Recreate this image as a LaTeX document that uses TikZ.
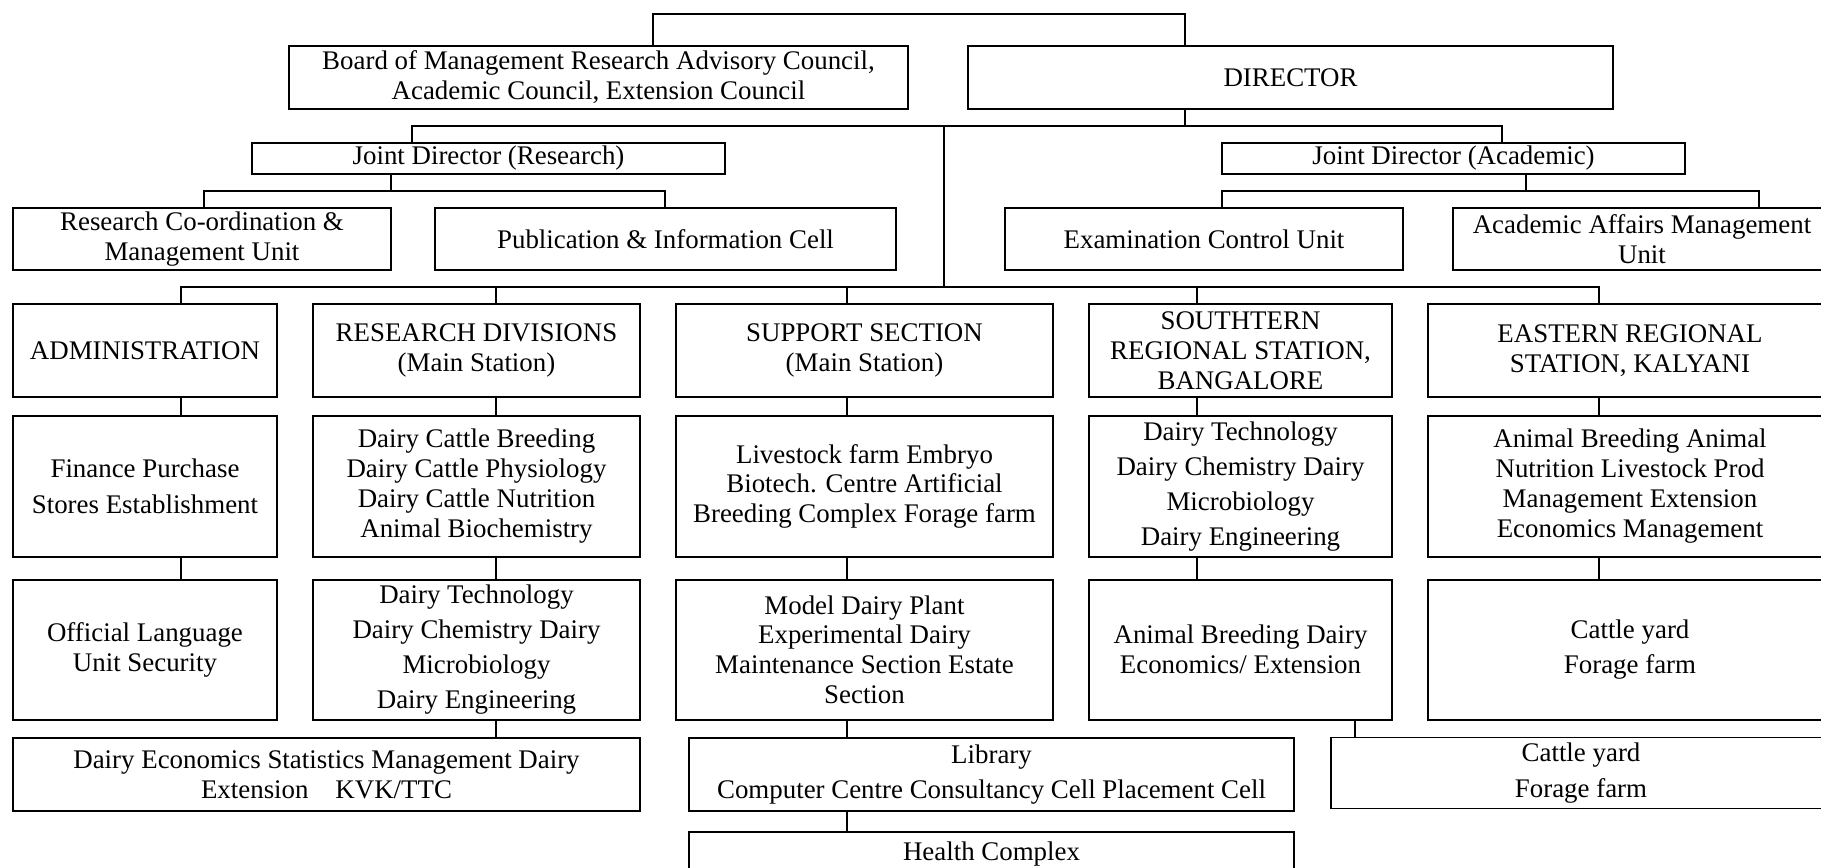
\documentclass[tikz,border=0pt]{standalone}
\usepackage{fontspec}
\setmainfont{Liberation Serif}
\usetikzlibrary{positioning}
\tikzset{
  orgbox/.style={
    rectangle, draw, line width=0.18mm, align=center, inner sep=0pt,
    font=\fontsize{7.65}{8.5}\selectfont
  },
  tallbox/.style={orgbox, font=\fontsize{7.65}{10}\selectfont},
  conn/.style={line width=0.18mm, line cap=rect},
  colA/.style={minimum width=26.4mm},
  colB/.style={minimum width=32.7mm},
  colC/.style={minimum width=37.7mm},
  colD/.style={minimum width=30.3mm},
  colE/.style={minimum width=40.4mm},
}

\begin{document}
\begin{tikzpicture}[x=0.1mm, y=-0.1mm]
  \useasboundingbox (0,0) rectangle (1821,867);
  \clip (0,0) rectangle (1821,867);

  % Top level
  \node[orgbox, minimum width=61.9mm, minimum height=6.3mm] (board) at (598.5,77.5)
    {Board of Management Research Advisory Council,\\Academic Council, Extension Council};
  \node[orgbox, minimum width=64.5mm, minimum height=6.3mm] (director) at (1290.5,77.5) {DIRECTOR};

  % Joint directors and their units
  \node[orgbox, minimum width=47.3mm, minimum height=3.1mm] (jdres) at (488.5,158.5) {Joint Director (Research)};
  \node[orgbox, minimum width=46.3mm, minimum height=3.1mm] (jdaca) at (1453.5,158.5) {Joint Director (Academic)};
  \node[orgbox, minimum width=37.8mm, minimum height=6.2mm] (rcmu) at (202,239)
    {Research Co-ordination \&\\Management Unit};
  \node[orgbox, minimum width=46.1mm, minimum height=6.2mm] (pic) at (665.5,239) {Publication \& Information Cell};
  \node[orgbox, minimum width=39.8mm, minimum height=6.2mm] (ecu) at (1204,239) {Examination Control Unit};
  \node[orgbox, minimum width=37.8mm, minimum height=6.2mm] (aamu) at (1642,239)
    {Academic Affairs Management\\Unit};

  % Sections
  \node[orgbox, colA, minimum height=9.3mm] (admin) at (145,350.5) {ADMINISTRATION};
  \node[orgbox, colB, minimum height=9.3mm] (resdiv) at (476.5,350.5) {RESEARCH DIVISIONS\\(Main Station)};
  \node[orgbox, colC, minimum height=9.3mm] (support) at (864.5,350.5) {SUPPORT SECTION\\(Main Station)};
  \node[orgbox, colD, minimum height=9.3mm] (south) at (1240.5,350.5) {SOUTHTERN\\REGIONAL STATION,\\BANGALORE};
  \node[orgbox, colE, minimum height=9.3mm] (east) at (1630,350.5) {EASTERN REGIONAL\\STATION, KALYANI};

  \node[tallbox, colA, minimum height=14.1mm, below=1.7mm of admin] (fin) {Finance Purchase\\Stores Establishment};
  \node[orgbox, colB, minimum height=14.1mm, below=1.7mm of resdiv] (rd2)
    {Dairy Cattle Breeding\\Dairy Cattle Physiology\\Dairy Cattle Nutrition\\Animal Biochemistry};
  \node[orgbox, colC, minimum height=14.1mm, below=1.7mm of support] (sup2)
    {Livestock farm Embryo\\Biotech. Centre Artificial\\Breeding Complex Forage farm};
  \node[tallbox, colD, minimum height=14.1mm, below=1.7mm of south] (so2)
    {Dairy Technology\\Dairy Chemistry Dairy\\Microbiology\\Dairy Engineering};
  \node[orgbox, colE, minimum height=14.1mm, below=1.7mm of east] (ea2)
    {Animal Breeding Animal\\Nutrition Livestock Prod\\Management Extension\\Economics Management};

  \node[orgbox, colA, minimum height=14mm, below=2.1mm of fin] (olu) {Official Language\\Unit Security};
  \node[tallbox, colB, minimum height=14mm, below=2.1mm of rd2] (rd3)
    {Dairy Technology\\Dairy Chemistry Dairy\\Microbiology\\Dairy Engineering};
  \node[orgbox, colC, minimum height=14mm, below=2.1mm of sup2] (sup3)
    {Model Dairy Plant\\Experimental Dairy\\Maintenance Section Estate\\Section};
  \node[orgbox, colD, minimum height=14mm, below=2.1mm of so2] (so3) {Animal Breeding Dairy\\Economics/ Extension};
  \node[tallbox, colE, minimum height=14mm, below=2.1mm of ea2] (ea3) {Cattle yard\\Forage farm};

  \node[orgbox, minimum width=62.7mm, minimum height=7.3mm] (dest) at (326.5,774.5)
    {Dairy Economics Statistics Management Dairy\\Extension\quad KVK/TTC};
  \node[tallbox, minimum width=60.5mm, minimum height=7.3mm] (lib) at (991.5,774.5)
    {Library\\Computer Centre Consultancy Cell Placement Cell};
  \node[tallbox, minimum width=50mm, minimum height=7.1mm] (cattle) at (1581,773) {Cattle yard\\Forage farm};
  \node[orgbox, minimum width=60.5mm, minimum height=4.4mm] (health) at (991.5,854) {Health Complex};

  % Junctions
  \coordinate (topL) at (653,14);
  \coordinate (topR) at (1185,14);
  \coordinate (jL) at (412,126);
  \coordinate (jR) at (1502,126);
  \coordinate (jM) at (944,126);
  \coordinate (hub) at (944,287);
  \coordinate (rb) at (391,191);
  \coordinate (rbL) at (204,191);
  \coordinate (rbR) at (665,191);
  \coordinate (ab) at (1526,191);
  \coordinate (abL) at (1222,191);
  \coordinate (abR) at (1759,191);
  \coordinate (cA) at (181,287);
  \coordinate (cB) at (496,287);
  \coordinate (cC) at (847,287);
  \coordinate (cD) at (1197,287);
  \coordinate (cE) at (1599,287);
  \coordinate (cS) at (1355,716);

  % Lines
  \draw[conn] (board.north -| topL) -- (topL) -- (topR) -- (director.north -| topR);
  \draw[conn] (director.south -| topR) -- (topR |- jL);
  \draw[conn] (jdres.north -| jL) -- (jL) -- (jR) -- (jdaca.north -| jR);
  \draw[conn] (jM) -- (hub);
  \draw[conn] (jdres.south -| rb) -- (rb);
  \draw[conn] (rcmu.north -| rbL) -- (rbL) -- (rbR) -- (pic.north -| rbR);
  \draw[conn] (jdaca.south -| ab) -- (ab);
  \draw[conn] (ecu.north -| abL) -- (abL) -- (abR) -- (aamu.north -| abR);

  \draw[conn] (cA) -- (cE);
  \draw[conn] (cA) -- (admin.north -| cA);
  \draw[conn] (cB) -- (resdiv.north -| cB);
  \draw[conn] (cC) -- (support.north -| cC);
  \draw[conn] (cD) -- (south.north -| cD);
  \draw[conn] (cE) -- (east.north -| cE);

  \draw[conn] (admin.south -| cA) -- (fin.north -| cA);
  \draw[conn] (fin.south -| cA) -- (olu.north -| cA);
  \draw[conn] (resdiv.south -| cB) -- (rd2.north -| cB);
  \draw[conn] (rd2.south -| cB) -- (rd3.north -| cB);
  \draw[conn] (support.south -| cC) -- (sup2.north -| cC);
  \draw[conn] (sup2.south -| cC) -- (sup3.north -| cC);
  \draw[conn] (south.south -| cD) -- (so2.north -| cD);
  \draw[conn] (so2.south -| cD) -- (so3.north -| cD);
  \draw[conn] (east.south -| cE) -- (ea2.north -| cE);
  \draw[conn] (ea2.south -| cE) -- (ea3.north -| cE);

  \draw[conn] (rd3.south -| cB) -- (dest.north -| cB);
  \draw[conn] (sup3.south -| cC) -- (lib.north -| cC);
  \draw[conn] (lib.south -| cC) -- (health.north -| cC);
  \draw[conn] (so3.south -| cS) -- (cattle.north -| cS);
\end{tikzpicture}
\end{document}
